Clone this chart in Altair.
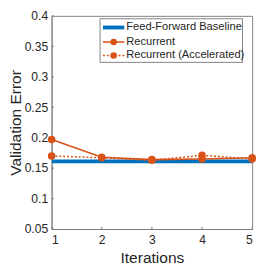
import altair as alt
import pandas as pd

# ---- data ----
iterations = [1, 2, 3, 4, 5]
baseline = [0.161, 0.161, 0.161, 0.161, 0.161]
recurrent = [0.197, 0.168, 0.164, 0.165, 0.167]
accelerated = [0.170, 0.167, 0.163, 0.171, 0.165]
series_names = ["Feed-Forward Baseline", "Recurrent", "Recurrent (Accelerated)"]
y_ticks = [0.05, 0.1, 0.15, 0.2, 0.25, 0.3, 0.35, 0.4]
x_ticks = [1, 2, 3, 4, 5]

BLUE = "#0072BD"
ORANGE = "#D95319"
FONT = "Liberation Sans"
TXT = "#262626"
GRAY = "#808080"
W, H = 207, 220

df_base = pd.DataFrame({"it": iterations, "v": baseline})
df_rec = pd.DataFrame({"it": iterations, "v": recurrent})
df_acc = pd.DataFrame({"it": iterations, "v": accelerated})
df_xt = pd.DataFrame({"it": x_ticks})
df_yt = pd.DataFrame({"v": y_ticks})

xs = alt.Scale(domain=[1, 5], nice=False, zero=False)
ys = alt.Scale(domain=[0.05, 0.4], nice=False, zero=False)

X = alt.X("it:Q", scale=xs, axis=alt.Axis(values=x_ticks, format="d", title="Iterations",
                                           titlePadding=4, labelPadding=5))
Y = alt.Y("v:Q", scale=ys, axis=alt.Axis(values=y_ticks, format=".2~f", title="Validation Error",
                                          titleX=-37, titleBaseline="middle", labelPadding=4))

# inward tick marks (MATLAB style)
xtick_marks = alt.Chart(df_xt).mark_rule(color=GRAY, strokeWidth=1).encode(
    x=X, y=alt.value(H), y2=alt.value(H - 2.5))
ytick_marks = alt.Chart(df_yt).mark_rule(color=GRAY, strokeWidth=1).encode(
    y=Y, x=alt.value(0), x2=alt.value(2.5))

base_line = alt.Chart(df_base).mark_line(color=BLUE, strokeWidth=4, clip=True).encode(x=X, y=Y)
acc_line = alt.Chart(df_acc).mark_line(color=ORANGE, strokeWidth=1.6, strokeDash=[2, 2]).encode(x=X, y=Y)
rec_line = alt.Chart(df_rec).mark_line(color=ORANGE, strokeWidth=1.6).encode(x=X, y=Y)
acc_pts = alt.Chart(df_acc).mark_point(color=ORANGE, filled=True, opacity=1, size=60, shape="circle").encode(x=X, y=Y)
rec_pts = alt.Chart(df_rec).mark_point(color=ORANGE, filled=True, opacity=1, size=60, shape="circle").encode(x=X, y=Y)

# ---- manual legend (layout only) ----
one = alt.Data(values=[{}])
lx0, lx1, ly0, ly1 = 50, 197, 3, 48
row_y = [12, 27, 41]
sym_x0, sym_x1, sym_xc, txt_x = 53, 75, 64, 77

legend_box = alt.Chart(one).mark_rect(fill="white", stroke=GRAY, strokeWidth=1).encode(
    x=alt.value(lx0), x2=alt.value(lx1), y=alt.value(ly0), y2=alt.value(ly1))

leg = [legend_box]
styles = [(BLUE, 4, None, False), (ORANGE, 1.6, None, True), (ORANGE, 1.6, [2, 2], True)]
for name, ry, (col, sw, dash, pt) in zip(series_names, row_y, styles):
    kw = dict(color=col, strokeWidth=sw)
    if dash:
        kw["strokeDash"] = dash
    leg.append(alt.Chart(one).mark_rule(**kw).encode(
        x=alt.value(sym_x0), x2=alt.value(sym_x1), y=alt.value(ry)))
    if pt:
        leg.append(alt.Chart(one).mark_point(color=col, filled=True, opacity=1, size=45, shape="circle").encode(
            x=alt.value(sym_xc), y=alt.value(ry)))
    leg.append(alt.Chart(one).mark_text(text=name, align="left", baseline="middle", font=FONT,
                                        fontSize=11.5, color=TXT).encode(
        x=alt.value(txt_x), y=alt.value(ry)))

chart = alt.layer(xtick_marks, ytick_marks, base_line, acc_line, rec_line, acc_pts, rec_pts, *leg).properties(
    width=W, height=H,
    autosize=alt.AutoSizeParams(type="none"),
    padding={"left": 45, "top": 4, "right": 6, "bottom": 33},
).configure_view(stroke=GRAY, strokeWidth=1).configure_axis(
    grid=False, ticks=False, domainColor=GRAY, domainWidth=1,
    labelFont=FONT, titleFont=FONT, labelFontSize=12.5, titleFontSize=16,
    titleFontWeight="normal", labelColor=TXT, titleColor=TXT,
)

chart.save("out.html", embed_options={"renderer": "svg", "actions": False})
